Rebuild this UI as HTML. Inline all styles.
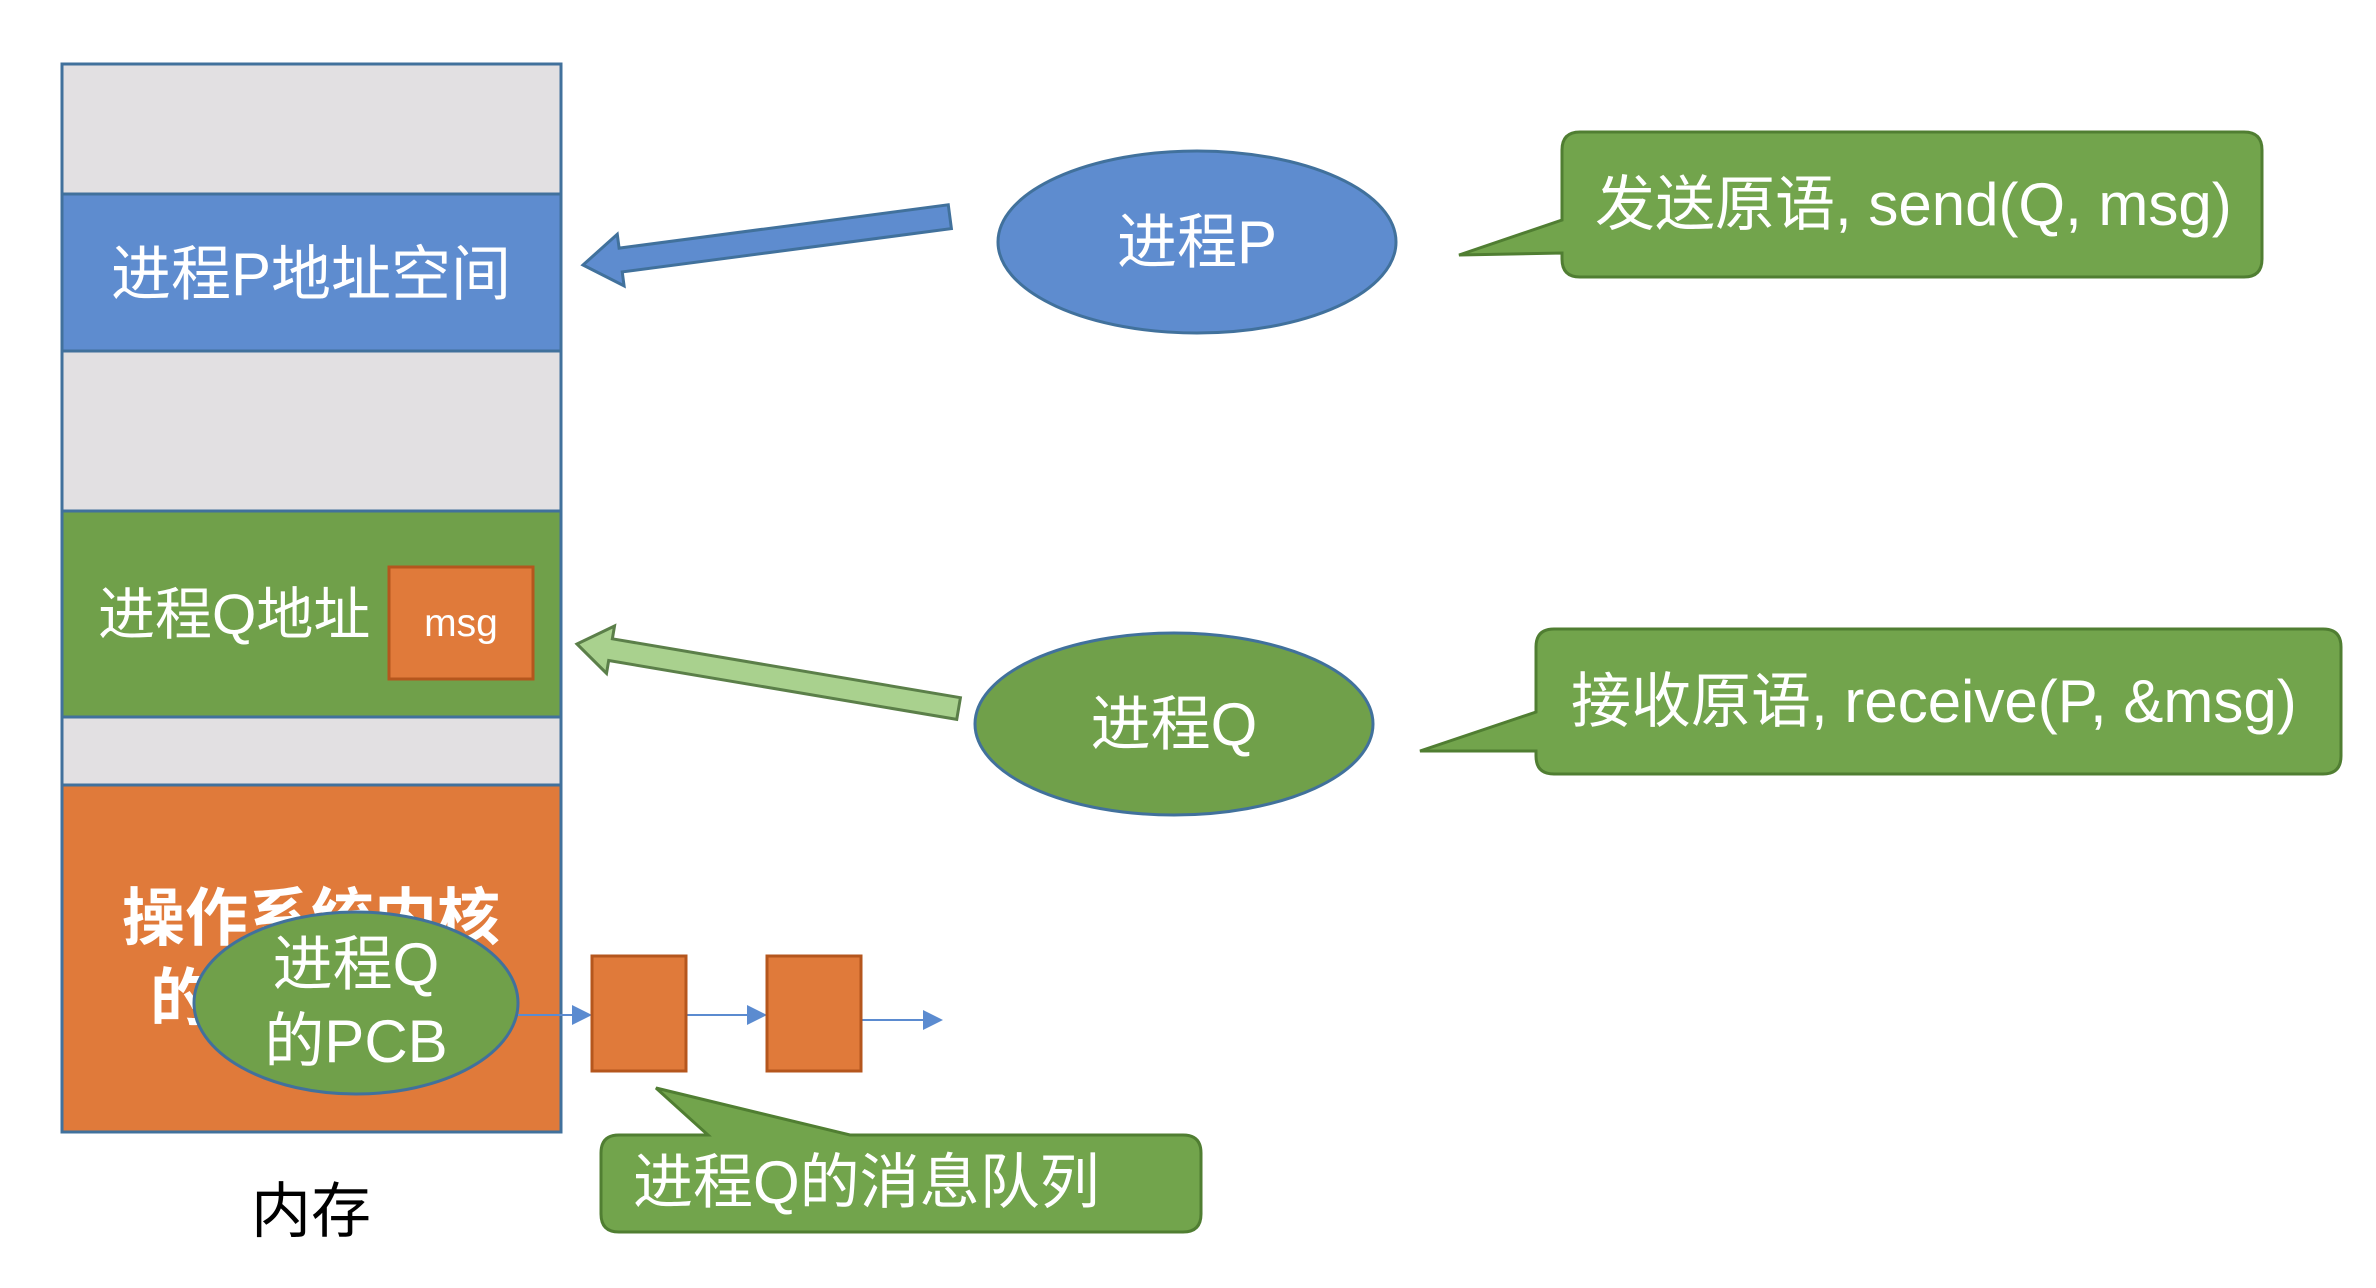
<!DOCTYPE html>
<html><head><meta charset="utf-8"><style>
html,body{margin:0;padding:0;background:#fff;}
svg{display:block;}
text{font-family:"Liberation Sans","Noto Sans CJK SC",sans-serif;}
</style></head><body>
<svg width="2376" height="1288" viewBox="0 0 2376 1288" xmlns="http://www.w3.org/2000/svg">
<!-- memory column -->
<rect x="62" y="64" width="499" height="130" fill="#e2e0e2"/>
<rect x="62" y="194" width="499" height="157" fill="#5e8ccf"/>
<rect x="62" y="351" width="499" height="160" fill="#e2e0e2"/>
<rect x="62" y="511" width="499" height="206" fill="#70a04a"/>
<rect x="62" y="717" width="499" height="68" fill="#e2e0e2"/>
<rect x="62" y="785" width="499" height="347" fill="#e07a3a"/>
<g stroke="#41719c" stroke-width="3" fill="none">
<rect x="62" y="64" width="499" height="1068"/>
<line x1="62" y1="194" x2="561" y2="194"/>
<line x1="62" y1="351" x2="561" y2="351"/>
<line x1="62" y1="511" x2="561" y2="511"/>
<line x1="62" y1="717" x2="561" y2="717"/>
<line x1="62" y1="785" x2="561" y2="785"/>
</g>
<text x="311" y="295" font-size="60" fill="#fff" text-anchor="middle">进程P地址空间</text>
<text x="98" y="634" font-size="57" fill="#fff">进程Q地址</text>
<rect x="389" y="567" width="144" height="112" fill="#e07a3a" stroke="#b5561d" stroke-width="3"/>
<text x="461" y="636" font-size="39" fill="#fff" text-anchor="middle">msg</text>
<text x="311" y="940" font-size="63" fill="#fff" text-anchor="middle" font-weight="bold">操作系统内核</text>
<text x="150" y="1020" font-size="63" fill="#fff" font-weight="bold">的</text>
<!-- PCB ellipse -->
<ellipse cx="356" cy="1003" rx="162" ry="91" fill="#70a04a" stroke="#41719c" stroke-width="3"/>
<text x="356" y="985" font-size="60" fill="#fff" text-anchor="middle">进程Q</text>
<text x="356" y="1062" font-size="60" fill="#fff" text-anchor="middle">的PCB</text>
<!-- queue -->
<g stroke="#5b8bd0" stroke-width="2">
<line x1="518" y1="1015" x2="575" y2="1015"/>
<line x1="686" y1="1015" x2="750" y2="1015"/>
<line x1="861" y1="1020" x2="925" y2="1020"/>
</g>
<g fill="#5b8bd0">
<polygon points="592,1015 572,1005 572,1025"/>
<polygon points="767,1015 747,1005 747,1025"/>
<polygon points="943,1020 923,1010 923,1030"/>
</g>
<rect x="592" y="956" width="94" height="115" fill="#e07a3a" stroke="#b5561d" stroke-width="3"/>
<rect x="767" y="956" width="94" height="115" fill="#e07a3a" stroke="#b5561d" stroke-width="3"/>
<!-- queue bubble -->
<path d="M619,1135 L708,1135 L656,1088 L850,1135 L1183,1135 Q1201,1135 1201,1153 L1201,1214 Q1201,1232 1183,1232 L619,1232 Q601,1232 601,1214 L601,1153 Q601,1135 619,1135 Z" fill="#72a44c" stroke="#507e32" stroke-width="3"/>
<text x="633" y="1203" font-size="60" fill="#fff">进程Q的消息队列</text>
<text x="311" y="1232" font-size="60" fill="#000" text-anchor="middle">内存</text>
<!-- blue arrow -->
<g transform="translate(583,265) rotate(-7.5)">
<polygon points="0,0 38,-26 38,-12 370,-12 370,12 38,12 38,26" fill="#5e8ccf" stroke="#41719c" stroke-width="3"/>
</g>
<!-- green arrow -->
<g transform="translate(577,644) rotate(9.6)">
<polygon points="0,0 34,-24 34,-11 387,-11 387,11 34,11 34,24" fill="#a9d18e" stroke="#5b7f49" stroke-width="3"/>
</g>
<!-- ellipses -->
<ellipse cx="1197" cy="242" rx="199" ry="91" fill="#5e8ccf" stroke="#41719c" stroke-width="3"/>
<text x="1197" y="263" font-size="60" fill="#fff" text-anchor="middle">进程P</text>
<ellipse cx="1174" cy="724" rx="199" ry="91" fill="#70a04a" stroke="#41719c" stroke-width="3"/>
<text x="1174" y="745" font-size="60" fill="#fff" text-anchor="middle">进程Q</text>
<!-- send callout -->
<path d="M1580,132 L2244,132 Q2262,132 2262,150 L2262,259 Q2262,277 2244,277 L1580,277 Q1562,277 1562,259 L1562,253 L1459,255 L1562,220 L1562,150 Q1562,132 1580,132 Z" fill="#72a44c" stroke="#507e32" stroke-width="3"/>
<text x="1595" y="225" font-size="60" fill="#fff">发送原语, send(Q, msg)</text>
<!-- receive callout -->
<path d="M1554,629 L2323,629 Q2341,629 2341,647 L2341,756 Q2341,774 2323,774 L1554,774 Q1536,774 1536,756 L1536,751 L1420,751 L1536,712 L1536,647 Q1536,629 1554,629 Z" fill="#72a44c" stroke="#507e32" stroke-width="3"/>
<text x="1571" y="722" font-size="60" fill="#fff">接收原语, receive(P, &amp;msg)</text>
</svg>
</body></html>
